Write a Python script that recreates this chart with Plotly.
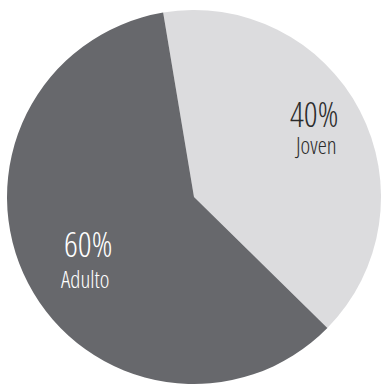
import plotly.graph_objects as go

labels = ["Joven", "Adulto"]
values = [40, 60]
colors = ["#dcdcde", "#67686c"]
text_colors = ["#2b2b2b", "#ffffff"]
# text anchor positions (paper coords): percent line and label line
pct_x = [0.824, 0.232]
pct_y = [0.704, 0.366]
lab_x = [0.827, 0.223]
lab_y = [0.623, 0.275]

fig = go.Figure(go.Pie(
    labels=labels,
    values=values,
    marker=dict(colors=colors, line=dict(width=0)),
    sort=False,
    direction="clockwise",
    rotation=-9.5,
    textinfo="none",
    hoverinfo="label+percent",
    showlegend=False,
    domain=dict(x=[0.0184, 1.0], y=[0.0026, 0.974]),
))

FONT = "Open Sans"
STYLE = "font-stretch:condensed;font-weight:300"
total = sum(values)
for lab, v, tc, px, py, lx, ly in zip(labels, values, text_colors, pct_x, pct_y, lab_x, lab_y):
    fig.add_annotation(
        x=px, y=py, xref="paper", yref="paper", xanchor="center", yanchor="middle",
        text=f"<span style='{STYLE}'>{round(100 * v / total)}%</span>",
        showarrow=False, borderpad=0, font=dict(family=FONT, color=tc, size=34),
    )
    fig.add_annotation(
        x=lx, y=ly, xref="paper", yref="paper", xanchor="center", yanchor="middle",
        text=f"<span style='{STYLE}'>{lab}</span>",
        showarrow=False, borderpad=0, font=dict(family=FONT, color=tc, size=23),
    )

fig.update_layout(
    width=381, height=385,
    margin=dict(l=0, r=0, t=0, b=0),
    paper_bgcolor="white",
    plot_bgcolor="white",
)
fig.write_html("out.html", config={"displayModeBar": False},
               post_script="document.body.style.margin='0';")
